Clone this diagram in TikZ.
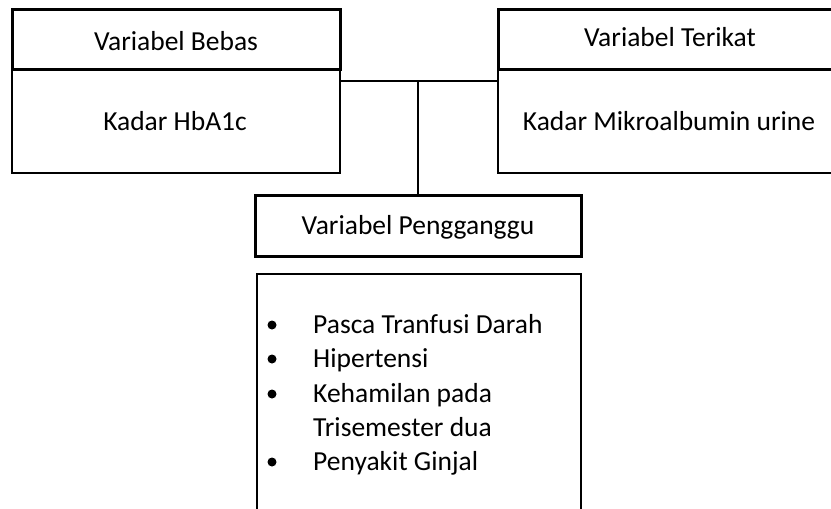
\documentclass[tikz,border=0pt]{standalone}
\usepackage{fontspec}
\setmainfont{Carlito}
\begin{document}
\begin{tikzpicture}[x=1pt,y=-1pt,
  thickbox/.style={draw, line width=3pt, inner sep=0pt},
  thinbox/.style={draw, line width=2pt, inner sep=0pt},
  conn/.style={draw, line width=1.3pt},
  txt/.style={anchor=base, inner sep=0pt, font=\fontsize{27.5}{33}\selectfont},
  bul/.style={circle, fill=black, inner sep=0pt, minimum size=9pt}]
\useasboundingbox (0,0) rectangle (831,509);
\clip (0,0) rectangle (831,509);
% left boxes
\node[thinbox, minimum width=328pt, minimum height=104pt] (lbot) at (176,121) {};
\node[thickbox, minimum width=328pt, minimum height=60pt] (lhead) at (176,39) {};
% right boxes
\node[thinbox, minimum width=344pt, minimum height=104pt] (rbot) at (670,121) {};
\node[thickbox, minimum width=344pt, minimum height=60pt] (rhead) at (670,39) {};
% confounder boxes
\node[thickbox, minimum width=326pt, minimum height=61pt] (peng) at (418,225.5) {};
\node[thinbox, minimum width=324pt, minimum height=260pt] (list) at (419,404) {};
% texts
\node[txt] (t1) at (176,50) {Variabel Bebas};
\node[txt] (t2) at (175,130) {Kadar HbA1c};
\node[txt] (t3) at (670,46) {Variabel Terikat};
\node[txt] (t4) at (669,130) {Kadar Mikroalbumin urine};
\node[txt] (t5) at (418,234) {Variabel Pengganggu};
\node[txt, anchor=base west] (l1) at (313,333) {Pasca Tranfusi Darah};
\node[txt, anchor=base west] (l2) at (313,367) {Hipertensi};
\node[txt, anchor=base west] (l3) at (313,402) {Kehamilan pada};
\node[txt, anchor=base west] (l4) at (313,436) {Trisemester dua};
\node[txt, anchor=base west] (l5) at (313,470) {Penyakit Ginjal};
\node[bul] (b1) at (272,325) {};
\node[bul] (b2) at (272,359) {};
\node[bul] (b3) at (272,394) {};
\node[bul] (b5) at (272,462) {};
% connectors
\coordinate (j) at (418,81);
\draw[conn] (lbot.east |- j) -- (rbot.west |- j);
\draw[conn] (j) -- (peng.north);
\end{tikzpicture}
\end{document}
